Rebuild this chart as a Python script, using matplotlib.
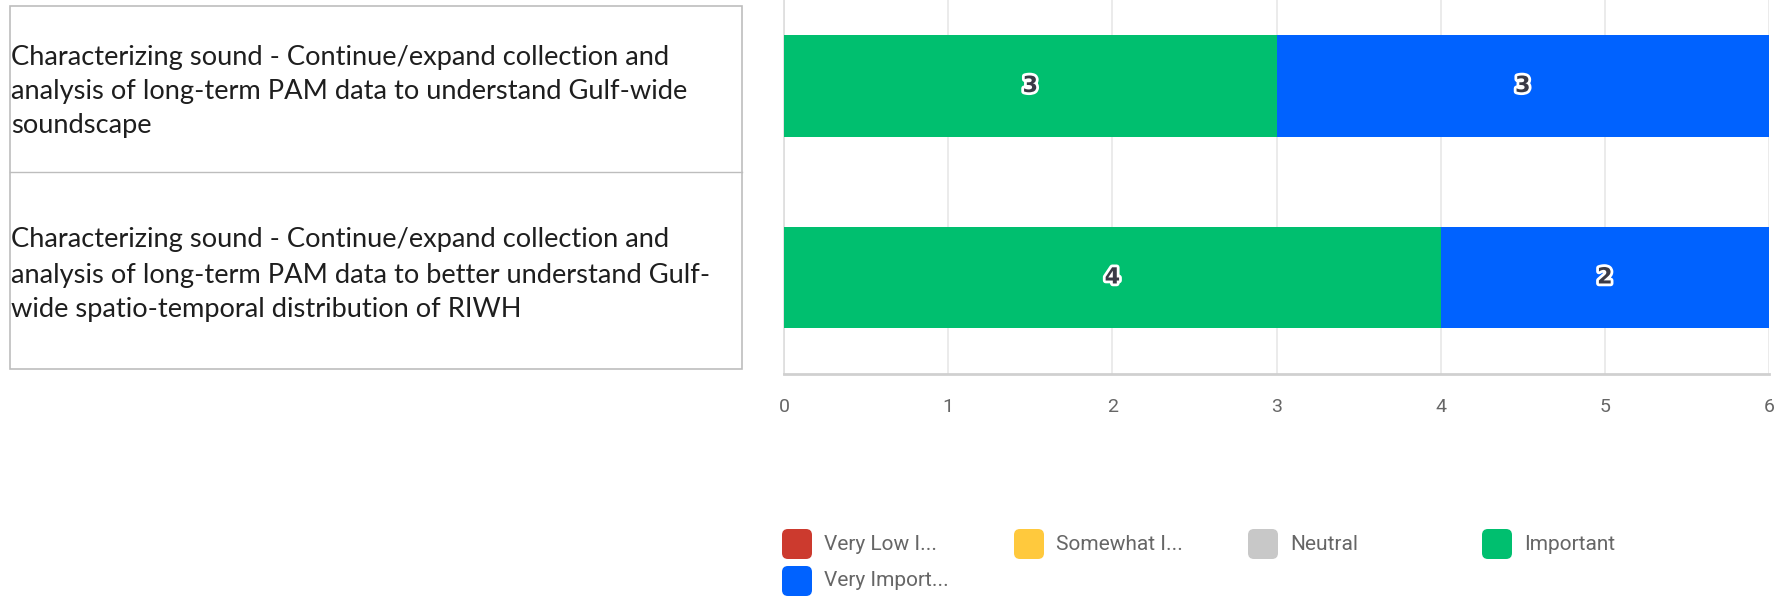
import matplotlib
matplotlib.use("Agg")
import matplotlib.pyplot as plt
import matplotlib.patheffects as pe
from matplotlib.patches import FancyBboxPatch, Rectangle
import numpy as np

# Survey responses per research priority
questions = [
    ["Characterizing sound - Continue/expand collection and",
     "analysis of long-term PAM data to understand Gulf-wide",
     "soundscape"],
    ["Characterizing sound - Continue/expand collection and",
     "analysis of long-term PAM data to better understand Gulf-",
     "wide spatio-temporal distribution of RIWH"],
]
levels = ["Very Low I...", "Somewhat I...", "Neutral", "Important", "Very Import..."]
counts = {
    "Very Low I...": [0, 0],
    "Somewhat I...": [0, 0],
    "Neutral": [0, 0],
    "Important": [3, 4],
    "Very Import...": [3, 2],
}
colors = ["#CC3A2E", "#FFC93D", "#C8C8C8", "#00BF6F", "#0062FF"]
x_ticks = [0, 1, 2, 3, 4, 5, 6]

W, H = 1787, 597
fig = plt.figure(figsize=(W / 100, H / 100), dpi=100)

def fx(px):
    return px / W

def fy(py):
    return 1 - py / H

# ---- question table on the left ----
tab = fig.add_axes([0, 0, 1, 1], zorder=0)
tab.set_xlim(0, W)
tab.set_ylim(H, 0)
tab.axis("off")
edge = "#BDBDBD"
tab.add_patch(Rectangle((10, 6), 732, 363, fill=False, ec=edge, lw=1.2))
tab.plot([10, 742], [172, 172], color=edge, lw=1.0)
line_y = [[57, 91, 125], [240, 275, 309]]
for q, ys in zip(questions, line_y):
    for txt, y in zip(q, ys):
        tab.text(11, y, txt, fontsize=19.6, family="Lato", color="#1E1E1E",
                 va="center", ha="left")

# ---- stacked bar chart ----
ax = fig.add_axes([fx(784), fy(374), fx(1769) - fx(784), fy(0) - fy(374)], zorder=1)
ax.patch.set_alpha(0)
y = np.arange(len(questions))
left = np.zeros(len(questions))
for lvl, col in zip(levels, colors):
    vals = np.array(counts[lvl], dtype=float)
    bars = ax.barh(y, vals, left=left, height=0.53, color=col, zorder=3)
    for b, v in zip(bars, vals):
        if v > 0:
            ax.text(b.get_x() + b.get_width() / 2, b.get_y() + b.get_height() / 2,
                    f"{int(v)}", ha="center", va="center", fontsize=16,
                    fontweight="bold", family="DejaVu Sans", color="#3A3A46", zorder=5,
                    path_effects=[pe.withStroke(linewidth=4, foreground="white")])
    left += vals

ax.set_xlim(0, 6)
ax.set_ylim(1.504, -0.449)
ax.set_xticks(x_ticks)
ax.set_xticklabels([str(t) for t in x_ticks])
ax.set_yticks([])
ax.grid(axis="x", color="#E8E8E8", lw=1.2, zorder=0)
for s in ["top", "right"]:
    ax.spines[s].set_visible(False)
ax.spines["left"].set_color("#DDDDDD")
ax.spines["left"].set_linewidth(1.2)
ax.spines["bottom"].set_color("#D0D0D0")
ax.spines["bottom"].set_linewidth(2)
ax.tick_params(axis="x", length=0, pad=17, labelsize=14, labelcolor="#666666")
for lab in ax.get_xticklabels():
    lab.set_family("Roboto")

# ---- legend ----
leg_pos = [(782, 544), (1014, 544), (1248, 544), (1482, 544), (782, 581)]
sw = 30
for (px, py), lvl, col in zip(leg_pos, levels, colors):
    tab.add_patch(FancyBboxPatch((px + 3, py - sw / 2 + 3), sw - 6, sw - 6,
                                 boxstyle="round,pad=3,rounding_size=6",
                                 fc=col, ec="none"))
    tab.text(px + sw + 12, py, lvl, fontsize=15, family="Roboto", color="#666666",
             va="center", ha="left")

fig.savefig("out.png", dpi=100)
